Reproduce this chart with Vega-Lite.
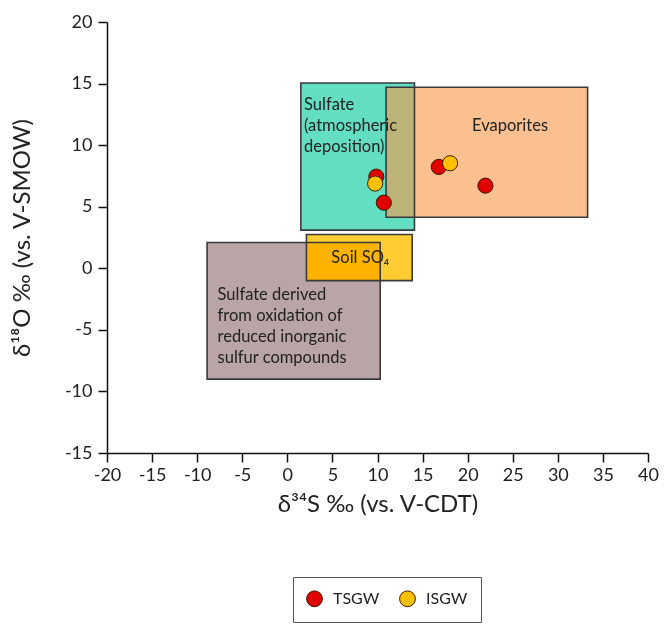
{
  "$schema": "https://vega.github.io/schema/vega-lite/v6.json",
  "autosize": "none",
  "width": 541,
  "height": 431,
  "padding": {"left": 107, "top": 22, "right": 16, "bottom": 175},
  "background": "white",
  "config": {
    "view": {"stroke": null},
    "font": "Lato",
    "axis": {
      "grid": false,
      "domainColor": "#111",
      "domainWidth": 1.5,
      "tickColor": "#111",
      "tickWidth": 1.5,
      "tickSize": 9,
      "labelFont": "Lato",
      "labelFontSize": 18,
      "labelColor": "#222",
      "labelOverlap": false,
      "labelFlush": false,
      "labelExpr": "'' + datum.value",
      "titleFont": "Lato",
      "titleFontSize": 24,
      "titleFontWeight": "normal",
      "titleColor": "#222"
    }
  },
  "data": {
    "values": [
      {"kind": "box", "name": "atm", "x": 1.5, "x2": 14.1, "y": 3.1, "y2": 15.05},
      {"kind": "box", "name": "evap", "x": 10.95, "x2": 33.3, "y": 4.15, "y2": 14.7},
      {"kind": "box", "name": "reduced", "x": -8.9, "x2": 10.3, "y": -9.0, "y2": 2.09},
      {"kind": "box", "name": "soil", "x": 2.12, "x2": 13.85, "y": -1.0, "y2": 2.74},
      {"kind": "textL", "x": 1.85, "y": 13.91, "label": "Sulfate\n(atmospheric\ndeposition)"},
      {"kind": "textL", "x": -7.74, "y": -1.51, "label": "Sulfate derived\nfrom oxidation of\nreduced inorganic\nsulfur compounds"},
      {"kind": "textC", "x": 24.7, "y": 11.56, "label": "Evaporites"},
      {"kind": "textC", "x": 8.1, "y": 0.84, "label": "Soil SO₄"},
      {"kind": "pt", "group": "TSGW", "x": 9.87, "y": 7.44},
      {"kind": "pt", "group": "TSGW", "x": 10.7, "y": 5.33},
      {"kind": "pt", "group": "TSGW", "x": 16.8, "y": 8.23},
      {"kind": "pt", "group": "TSGW", "x": 21.97, "y": 6.71},
      {"kind": "pt", "group": "ISGW", "x": 9.74, "y": 6.88},
      {"kind": "pt", "group": "ISGW", "x": 18.05, "y": 8.53}
    ]
  },
  "encoding": {
    "x": {
      "field": "x", "type": "quantitative",
      "scale": {"domain": [-20, 40], "nice": false, "zero": false},
      "axis": {"values": [-20, -15, -10, -5, 0, 5, 10, 15, 20, 25, 30, 35, 40], "labelPadding": 4, "titlePadding": 8},
      "title": "δ³⁴S ‰ (vs. V-CDT)"
    },
    "y": {
      "field": "y", "type": "quantitative",
      "scale": {"domain": [-15, 20], "nice": false, "zero": false},
      "axis": {"values": [-15, -10, -5, 0, 5, 10, 15, 20], "labelPadding": 6, "titlePadding": 30},
      "title": "δ¹⁸O ‰ (vs. V-SMOW)"
    }
  },
  "layer": [
    {
      "transform": [{"filter": "datum.name === 'atm'"}],
      "mark": {"type": "rect", "fill": "#64DEC3"},
      "encoding": {"x2": {"field": "x2"}, "y2": {"field": "y2"}}
    },
    {
      "transform": [{"filter": "datum.name === 'evap'"}],
      "mark": {"type": "rect", "fill": "#F79646", "fillOpacity": 0.6},
      "encoding": {"x2": {"field": "x2"}, "y2": {"field": "y2"}}
    },
    {
      "transform": [{"filter": "datum.name === 'reduced'"}],
      "mark": {"type": "rect", "fill": "#CCC5C5"},
      "encoding": {"x2": {"field": "x2"}, "y2": {"field": "y2"}}
    },
    {
      "transform": [{"filter": "datum.name === 'soil'"}],
      "mark": {"type": "rect", "fill": "#FFCD32"},
      "encoding": {"x2": {"field": "x2"}, "y2": {"field": "y2"}}
    },
    {
      "transform": [{"filter": "datum.name === 'reduced'"}],
      "mark": {"type": "rect", "fill": "#B9A5A5", "blend": "color-burn"},
      "encoding": {"x2": {"field": "x2"}, "y2": {"field": "y2"}}
    },
    {
      "transform": [{"filter": "datum.kind === 'box'"}],
      "mark": {"type": "rect", "fillOpacity": 0, "stroke": "#3a3a3a", "strokeWidth": 1.6},
      "encoding": {"x2": {"field": "x2"}, "y2": {"field": "y2"}}
    },
    {
      "transform": [{"filter": "datum.kind === 'textL'"}],
      "mark": {"type": "text", "align": "left", "baseline": "top", "lineBreak": "\n", "lineHeight": 21, "font": "Lato", "fontSize": 16.5, "color": "#222"},
      "encoding": {"text": {"field": "label"}}
    },
    {
      "transform": [{"filter": "datum.kind === 'textC'"}],
      "mark": {"type": "text", "align": "center", "baseline": "middle", "font": "Lato", "fontSize": 16.5, "color": "#222"},
      "encoding": {"text": {"field": "label"}}
    },
    {
      "transform": [{"filter": "datum.kind === 'pt'"}],
      "mark": {"type": "point", "shape": "circle", "filled": true, "size": 230, "opacity": 1, "stroke": "#3a1a00", "strokeWidth": 1},
      "encoding": {
        "color": {
          "field": "group", "type": "nominal",
          "scale": {"domain": ["TSGW", "ISGW"], "range": ["#E00000", "#FFC000"]},
          "legend": {
            "title": null,
            "orient": "none",
            "legendX": 186,
            "legendY": 555,
            "direction": "horizontal",
            "strokeColor": "#555",
            "padding": 13,
            "columnPadding": 17,
            "symbolSize": 250,
            "symbolStrokeColor": "#3a1a00",
            "symbolStrokeWidth": 1,
            "symbolOffset": 0,
            "labelOffset": 10,
            "labelFont": "Lato",
            "labelFontSize": 16,
            "labelColor": "#222"
          }
        }
      }
    }
  ]
}
